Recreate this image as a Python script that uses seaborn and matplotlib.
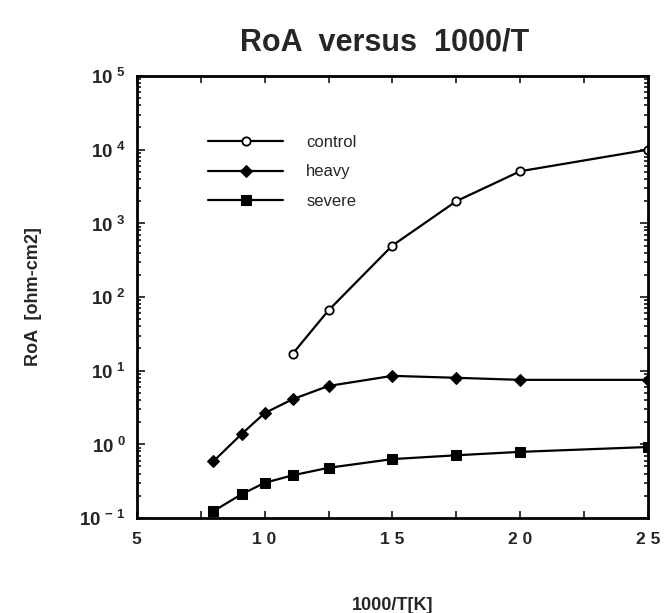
import pandas as pd
import matplotlib
matplotlib.use('Agg')
import matplotlib.pyplot as plt
import matplotlib.ticker as mticker
import seaborn as sns

# Data
x_control = [11.1, 12.5, 15.0, 17.5, 20.0, 25.0]
roa_control = [17, 66, 500, 2000, 5100, 10000]

x_heavy = [8.0, 9.1, 10.0, 11.1, 12.5, 15.0, 17.5, 20.0, 25.0]
roa_heavy = [0.59, 1.38, 2.65, 4.1, 6.2, 8.5, 8.0, 7.5, 7.5]

x_severe = [8.0, 9.1, 10.0, 11.1, 12.5, 15.0, 17.5, 20.0, 25.0]
roa_severe = [0.124, 0.21, 0.30, 0.38, 0.48, 0.63, 0.71, 0.79, 0.92]

x_ticks = [5, 10, 15, 20, 25]
x_ticklabels = ['5', '1 0', '1 5', '2 0', '2 5']
y_ticks = [0.1, 1, 10, 100, 1000, 10000, 100000]
y_ticklabels = [r'$\mathbf{10}^{\ \mathbf{-\ 1}}$', r'$\mathbf{10}^{\ \mathbf{0}}$',
                r'$\mathbf{10}^{\ \mathbf{1}}$', r'$\mathbf{10}^{\ \mathbf{2}}$',
                r'$\mathbf{10}^{\ \mathbf{3}}$', r'$\mathbf{10}^{\ \mathbf{4}}$',
                r'$\mathbf{10}^{\ \mathbf{5}}$']

sns.set_style('ticks')
plt.rcParams['font.family'] = ['Liberation Sans', 'DejaVu Sans']
plt.rcParams['mathtext.fontset'] = 'custom'
plt.rcParams['mathtext.rm'] = 'Liberation Sans:bold'
plt.rcParams['mathtext.bf'] = 'Liberation Sans:bold'

fig = plt.figure(figsize=(6.64, 6.13), dpi=100)
ax = fig.add_axes([0.206, 0.155, 0.77, 0.721])

df_c = pd.DataFrame({'x': x_control, 'y': roa_control})
df_h = pd.DataFrame({'x': x_heavy, 'y': roa_heavy})
df_s = pd.DataFrame({'x': x_severe, 'y': roa_severe})

sns.lineplot(data=df_c, x='x', y='y', ax=ax, color='black', lw=1.6,
             marker='o', markersize=6, markerfacecolor='white',
             markeredgecolor='black', markeredgewidth=1.3, label='control')
sns.lineplot(data=df_h, x='x', y='y', ax=ax, color='black', lw=1.6,
             marker='D', markersize=6, markerfacecolor='black',
             markeredgecolor='black', label='heavy')
sns.lineplot(data=df_s, x='x', y='y', ax=ax, color='black', lw=1.6,
             marker='s', markersize=7, markerfacecolor='black',
             markeredgecolor='black', label='severe')

ax.set_yscale('log')
ax.set_xlim(5, 25)
ax.set_ylim(0.1, 100000)

ax.set_xticks(x_ticks)
ax.set_xticklabels(x_ticklabels, fontsize=12.5, fontweight='bold')
ax.xaxis.set_minor_locator(mticker.FixedLocator([7.5, 12.5, 17.5, 22.5]))
ax.set_yticks(y_ticks)
ax.set_yticklabels(y_ticklabels, fontsize=13.5)
ax.yaxis.set_minor_locator(mticker.LogLocator(base=10, subs=range(2, 10), numticks=20))
ax.yaxis.set_minor_formatter(mticker.NullFormatter())

ax.tick_params(which='both', direction='in', top=True, right=True, width=1.3)
ax.tick_params(which='major', length=6, pad=8)
ax.tick_params(which='minor', length=3)
ax.tick_params(axis='x', which='major', length=5, pad=10)
ax.tick_params(axis='x', which='minor', length=5)

for s in ax.spines.values():
    s.set_linewidth(2)
    s.set_color('black')

ax.set_xlabel('1000/T[K]', fontsize=13, fontweight='bold', labelpad=36)
ax.set_ylabel('RoA  [ohm-cm2]', fontsize=13, fontweight='bold', labelpad=27)
fig.suptitle('RoA  versus  1000/T', fontsize=22, fontweight='bold', x=0.58, y=0.955)

ax.legend(loc='upper left', bbox_to_anchor=(0.11, 0.9), frameon=False,
          fontsize=12, handlelength=4.5, handletextpad=1.4, labelspacing=0.85)

fig.savefig('out.png', dpi=100)
plt.close()
